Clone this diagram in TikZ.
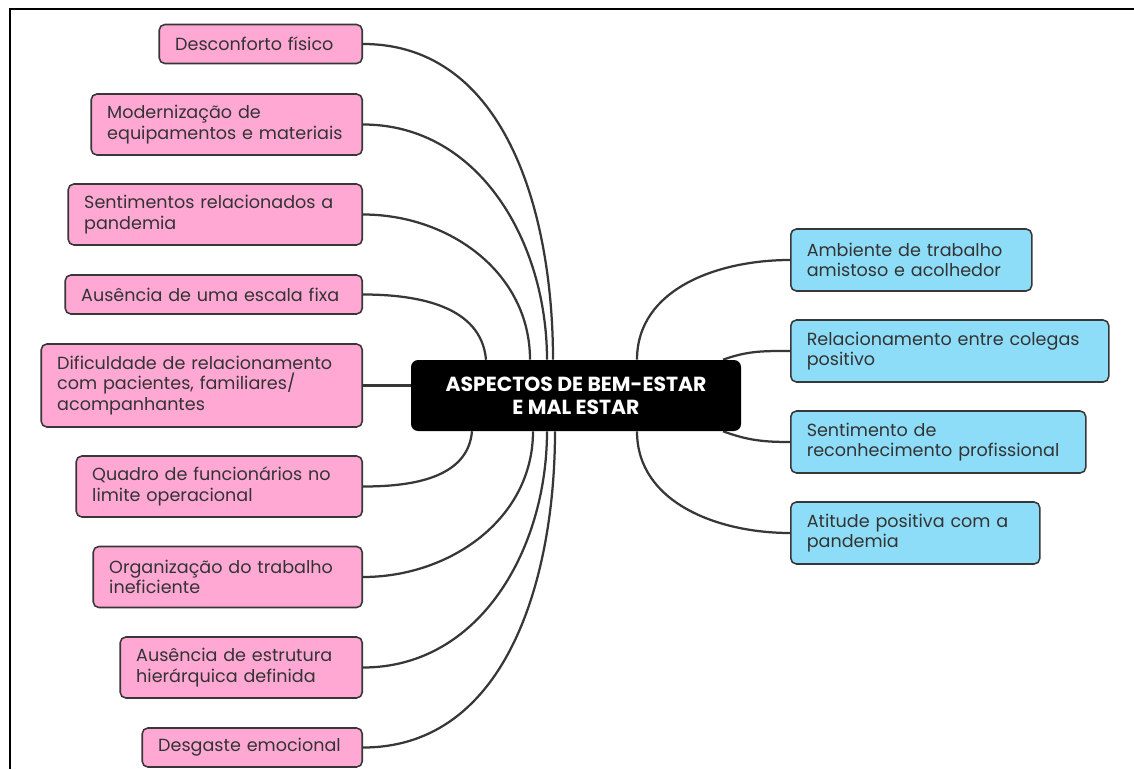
\documentclass[tikz,border=0pt]{standalone}
\usepackage{fontspec}
\setmainfont{Poppins}
\usetikzlibrary{backgrounds}
\definecolor{rosa}{RGB}{255,168,212}
\definecolor{azul}{RGB}{142,221,248}
\definecolor{linha}{RGB}{55,55,55}
\begin{document}
\begin{tikzpicture}
        \tikzset{caixa/.style = {draw=linha,line width=1.1pt,rounded corners=4pt,inner xsep=0.4cm,inner ysep=0pt,align=left,text=black!80,font=\fontsize{12.5}{14.5}\selectfont}}
        \tikzset{mal/.style = {caixa,fill=rosa,anchor=east}}
        \tikzset{bem/.style = {caixa,fill=azul,anchor=west}}
        \tikzset{tema/.style = {fill=black,rounded corners=5pt,text=white,align=center,font=\bfseries\fontsize{14.5}{16.5}\selectfont,minimum width=8.25cm,minimum height=1.775cm}}
        \tikzset{ramo/.style = {draw=linha,line width=1.6pt}}

        \useasboundingbox (0,0) rectangle (28.35,-19.225);
        \draw[line width=1.3pt] (0.24,-19.225) -- (0.24,-0.225) -- (28.35,-0.225);

        \node[tema] (centro) at (14.4,-9.8875) {ASPECTOS DE BEM-ESTAR\\E MAL ESTAR};

        \node[mal,text width=4.275cm,minimum height=0.975cm] (desconforto) at (9.075,-1.1) {Desconforto físico};
        \node[mal,text width=5.975cm,minimum height=1.525cm] (modernizacao) at (9.075,-3.1125) {Modernização de\\equipamentos e materiais};
        \node[mal,text width=6.55cm,minimum height=1.525cm] (sentimentos) at (9.075,-5.3625) {Sentimentos relacionados a\\pandemia};
        \node[mal,text width=6.625cm,minimum height=0.975cm] (escala) at (9.075,-7.3625) {Ausência de uma escala fixa};
        \node[mal,text width=7.225cm,minimum height=2.075cm] (dificuldade) at (9.075,-9.6375) {Dificuldade de relacionamento\\com pacientes, familiares/\\acompanhantes};
        \node[mal,text width=6.35cm,minimum height=1.525cm] (quadro) at (9.075,-12.1625) {Quadro de funcionários no\\limite operacional};
        \node[mal,text width=5.925cm,minimum height=1.525cm] (organizacao) at (9.075,-14.425) {Organização do trabalho\\ineficiente};
        \node[mal,text width=5.25cm,minimum height=1.525cm] (estrutura) at (9.075,-16.6875) {Ausência de estrutura\\hierárquica definida};
        \node[mal,text width=4.7cm,minimum height=0.975cm] (desgaste) at (9.075,-18.6875) {Desgaste emocional};

        \node[bem,text width=5.225cm,minimum height=1.55cm] (ambiente) at (19.75,-6.5) {Ambiente de trabalho\\amistoso e acolhedor};
        \node[bem,text width=7.15cm,minimum height=1.55cm] (colegas) at (19.75,-8.775) {Relacionamento entre colegas\\positivo};
        \node[bem,text width=6.575cm,minimum height=1.55cm] (reconhecimento) at (19.75,-11.05) {Sentimento de\\reconhecimento profissional};
        \node[bem,text width=5.425cm,minimum height=1.55cm] (atitude) at (19.75,-13.325) {Atitude positiva com a\\pandemia};

        \begin{scope}[on background layer]
            % lado esquerdo
            \draw[ramo] (desconforto.east) to[out=0,in=90] ([xshift=-0.575cm]centro.north);
            \draw[ramo] (modernizacao.east) to[out=0,in=90] ([xshift=-0.725cm]centro.north);
            \draw[ramo] (sentimentos.east) to[out=0,in=90] ([xshift=-1.15cm]centro.north);
            \draw[ramo] (escala.east) to[out=0,in=95] ([xshift=-2.25cm]centro.north);
            \draw[ramo] (dificuldade.east) -- (dificuldade.east -| centro.west);
            \draw[ramo] (quadro.east) to[out=0,in=-95] ([xshift=-2.6cm]centro.south);
            \draw[ramo] (organizacao.east) to[out=0,in=-90] ([xshift=-1.075cm]centro.south);
            \draw[ramo] (estrutura.east) to[out=0,in=-90] ([xshift=-0.725cm]centro.south);
            \draw[ramo] (desgaste.east) to[out=0,in=-90] ([xshift=-0.525cm]centro.south);
            % lado direito
            \draw[ramo] (ambiente.west) to[out=180,in=90] ([xshift=1.525cm]centro.north);
            \draw[ramo] (colegas.west) to[out=180,in=20] ([xshift=3.675cm]centro.north);
            \draw[ramo] (reconhecimento.west) to[out=180,in=-20] ([xshift=3.675cm]centro.south);
            \draw[ramo] (atitude.west) to[out=180,in=-90] ([xshift=1.525cm]centro.south);
        \end{scope}
    \end{tikzpicture}
\end{document}
